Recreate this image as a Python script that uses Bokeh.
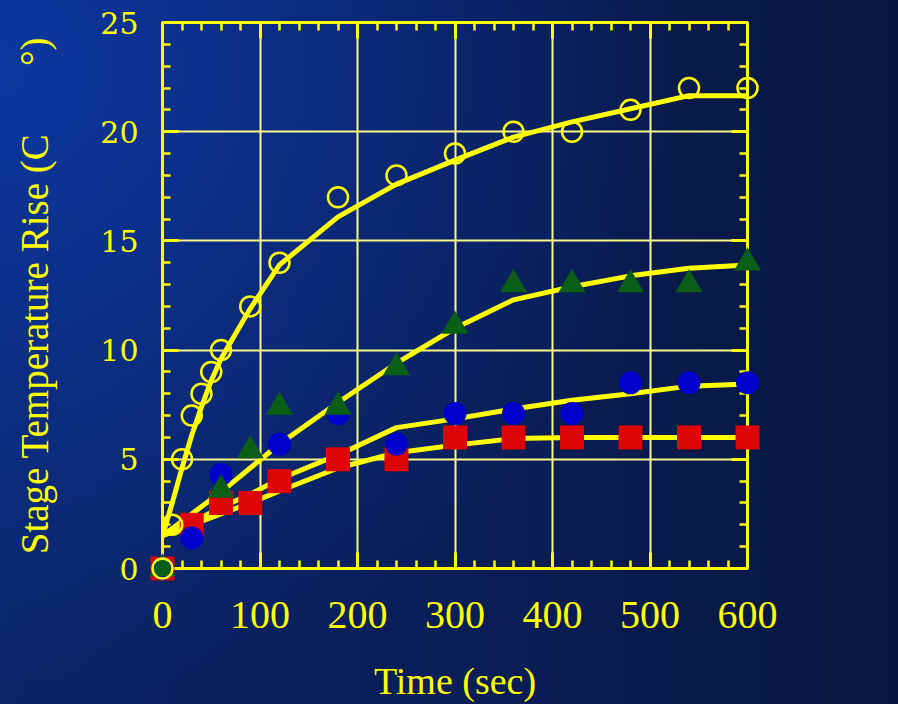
import numpy as np
from bokeh.plotting import figure
from bokeh.models import (Range1d, LinearAxis, SingleIntervalTicker, Label,
                          GlobalInlineStyleSheet)
from bokeh.embed import file_html
from bokeh.resources import INLINE

# ---------------- data ----------------
# measured points
t_150 = [0, 10, 20, 30, 40, 50, 60, 90, 120, 180, 240, 300, 360, 420, 480, 540, 600]
y_150 = [0, 2, 5, 7, 8, 9, 10, 12, 14, 17, 18, 19, 20, 20, 21, 22, 22]

t_40 = [0, 60, 90, 120, 180, 240, 300, 360, 420, 480, 540, 600]
y_40 = [0, 3.6, 5.4, 7.4, 7.4, 9.2, 11.1, 13.0, 13.0, 13.0, 13.0, 14.0]

t_20 = [0, 30, 60, 120, 180, 240, 300, 360, 420, 480, 540, 600]
y_20 = [0, 1.4, 4.3, 5.7, 7.1, 5.7, 7.1, 7.1, 7.1, 8.5, 8.5, 8.5]

t_10 = [0, 30, 60, 90, 120, 180, 240, 300, 360, 420, 480, 540, 600]
y_10 = [0, 2, 3, 3, 4, 5, 5, 6, 6, 6, 6, 6, 6]

# fitted curves (yellow lines)
fit_t150 = [0, 10, 20, 30, 40, 50, 60, 90, 120, 180, 240, 300, 360, 420, 480, 540, 600]
fit_y150 = [1.5, 3.0, 4.6, 6.1, 7.4, 8.6, 9.6, 11.9, 13.9, 16.1, 17.6, 18.7, 19.75, 20.45, 21.05, 21.65, 21.65]

fit_t40 = [0, 30, 60, 90, 120, 180, 240, 300, 360, 420, 480, 540, 600]
fit_y40 = [1.5, 2.5, 3.5, 4.6, 5.7, 7.6, 9.4, 11.0, 12.3, 12.9, 13.4, 13.75, 13.9]

fit_t20 = [0, 30, 60, 90, 120, 180, 240, 300, 360, 420, 480, 540, 600]
fit_y20 = [1.5, 2.1, 2.8, 3.4, 4.1, 5.2, 6.45, 6.85, 7.3, 7.7, 8.0, 8.35, 8.45]

fit_t10 = [0, 30, 60, 90, 120, 180, 240, 300, 360, 420, 480, 540, 600]
fit_y10 = [1.5, 2.0, 2.5, 3.0, 3.55, 4.6, 5.3, 5.65, 5.95, 6.0, 6.0, 6.0, 6.0]

series_labels = ["150 W", "Lamp", "40 W", "20 W", "10 W"]
x_title = "Time (sec)"
y_title = "Stage Temperature Rise (C" + "\u00a0" * 7 + "\u00b0)"

# ---------------- styling ----------------
YELLOW = "#ffff00"
GRID = "#f8f88a"
RED = "#dd0404"
BLUE = "#0000cc"
GREEN = "#0b5e16"

bg_css = """
html {
  min-height: 100%;
  background:
    radial-gradient(ellipse 75% 90% at 0% 10%, rgba(13,58,170,0.85) 0%, rgba(13,58,170,0.45) 45%, rgba(13,58,170,0) 100%),
    linear-gradient(to right, #0b2567 0%, #0a1e58 50%, #08163f 100%);
}
body { background: transparent; }
"""

p = figure(width=898, height=704, output_backend="svg", toolbar_location=None,
           x_range=Range1d(0, 600), y_range=Range1d(0, 25),
           min_border_left=162, min_border_right=151,
           min_border_top=22, min_border_bottom=136,
           x_axis_label=x_title, y_axis_label=y_title)
p.stylesheets = [GlobalInlineStyleSheet(css=bg_css)]
p.background_fill_alpha = 0
p.border_fill_alpha = 0
p.outline_line_color = YELLOW
p.outline_line_width = 3

xt = SingleIntervalTicker(interval=100, num_minor_ticks=5)
yt = SingleIntervalTicker(interval=5, num_minor_ticks=5)

xa = p.below[0]
ya = p.left[0]
xa.ticker = xt
ya.ticker = yt

top_axis = LinearAxis(ticker=xt)
right_axis = LinearAxis(ticker=yt)
p.add_layout(top_axis, "above")
p.add_layout(right_axis, "right")

for ax in [xa, ya, top_axis, right_axis]:
    ax.axis_line_color = YELLOW
    ax.axis_line_width = 3
    ax.major_tick_line_color = YELLOW
    ax.major_tick_line_width = 3
    ax.major_tick_in = 16
    ax.major_tick_out = 0
    ax.minor_tick_line_color = YELLOW
    ax.minor_tick_line_width = 2.5
    ax.minor_tick_in = 8
    ax.minor_tick_out = 0

for ax in [top_axis, right_axis]:
    ax.major_label_text_font_size = "0px"
    ax.major_label_text_color = None
    ax.major_label_standoff = 0

xa.major_label_text_font = "Liberation Serif"
xa.major_label_text_font_size = "40px"
xa.major_label_text_color = YELLOW
xa.major_label_standoff = 33
xa.axis_label_text_font = "Liberation Serif"
xa.axis_label_text_font_size = "38px"
xa.axis_label_text_font_style = "normal"
xa.axis_label_text_color = YELLOW
xa.axis_label_standoff = 29

ya.major_label_text_font = "DejaVu Serif"
ya.major_label_text_font_size = "30px"
ya.major_label_text_color = YELLOW
ya.major_label_standoff = 24
ya.axis_label_text_font = "Liberation Serif"
ya.axis_label_text_font_size = "39px"
ya.axis_label_text_font_style = "normal"
ya.axis_label_text_color = YELLOW
ya.axis_label_standoff = 41

p.xgrid.ticker = xt
p.ygrid.ticker = yt
for g in [p.xgrid[0], p.ygrid[0]]:
    g.grid_line_color = GRID
    g.grid_line_width = 2

# fitted lines (under the markers)
for ft, fy in [(fit_t10, fit_y10), (fit_t20, fit_y20), (fit_t40, fit_y40), (fit_t150, fit_y150)]:
    p.line(ft, fy, line_color=YELLOW, line_width=5, line_join="round")

# markers, drawn unclipped so edge points show in full
r10 = p.scatter(t_10, y_10, marker="square", size=24, fill_color=RED, line_color=None)
r20 = p.scatter(t_20, y_20, marker="circle", size=23, fill_color=BLUE, line_color=None)
r40 = p.scatter(t_40, y_40, marker="triangle", size=27, fill_color=GREEN, line_color=None)
r150 = p.scatter(t_150, y_150, marker="circle", size=20, fill_color=None,
                 line_color=YELLOW, line_width=2.5)
for r in [r10, r20, r40, r150]:
    r.level = "overlay"

# series labels on the right
label_pos = [(641, 21.73), (639, 19.83), (656, 13.84), (658, 8.18), (656, 5.55)]
for txt, (lx, ly) in zip(series_labels, label_pos):
    p.add_layout(Label(x=lx, y=ly, text=txt, text_font="DejaVu Serif",
                       text_font_size="31px", text_color=YELLOW,
                       text_align="left", text_baseline="alphabetic"))

open("out.html", "w").write(file_html(p, INLINE))
